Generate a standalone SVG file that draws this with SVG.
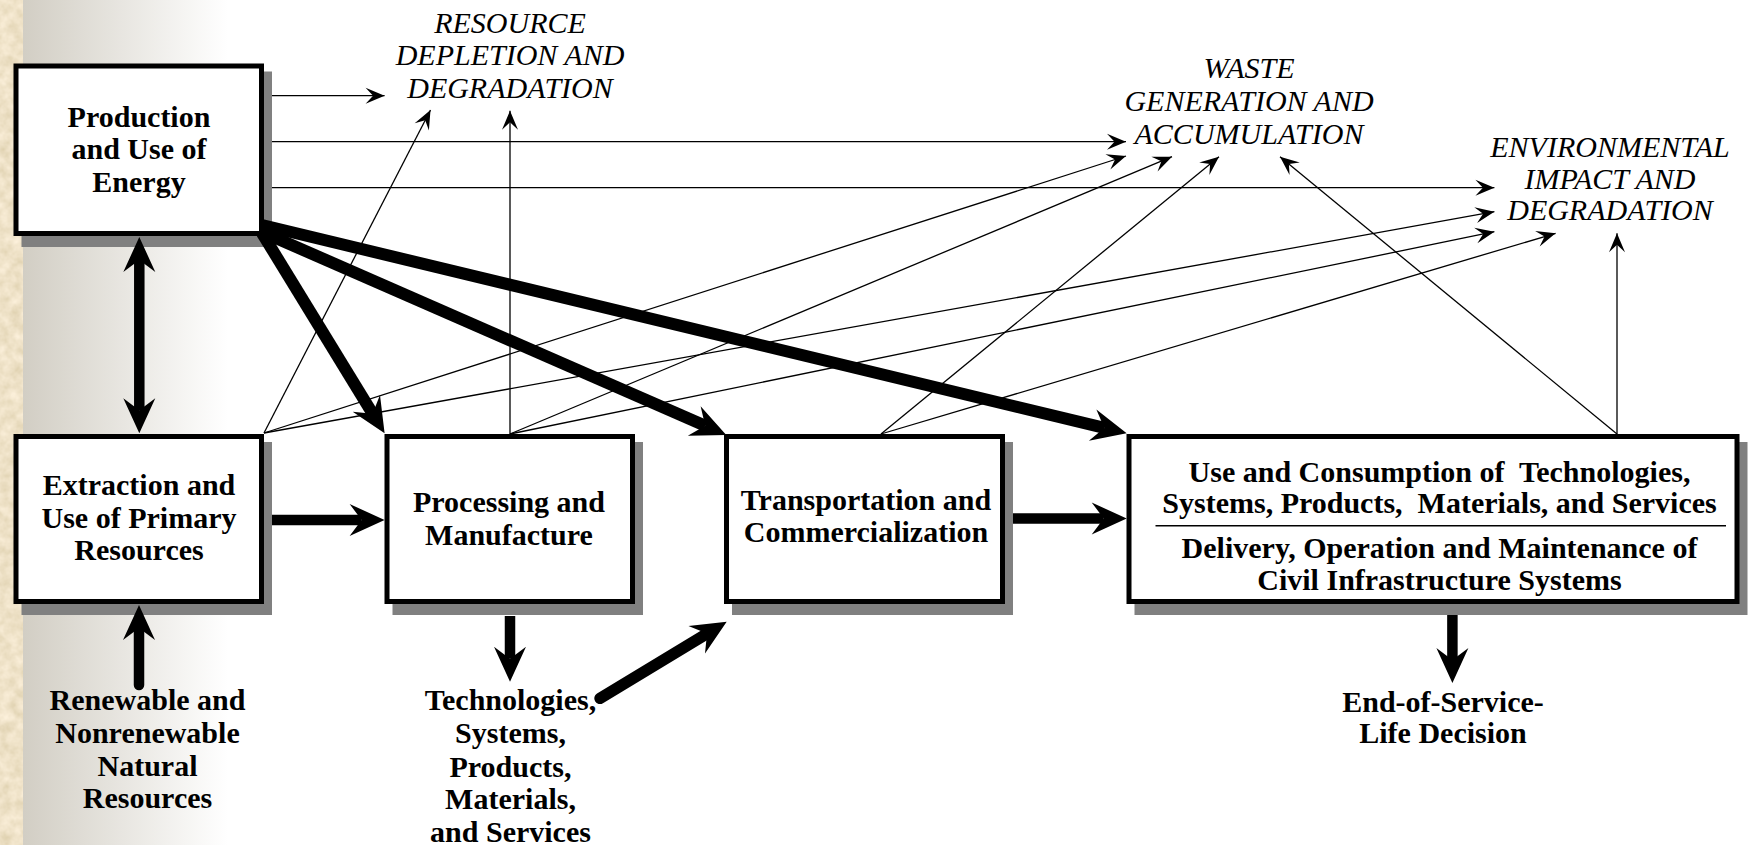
<svg xmlns="http://www.w3.org/2000/svg" width="1754" height="845" viewBox="0 0 1754 845">
<style>
.box{fill:#fff;stroke:#000;stroke-width:5}
.shd{fill:#808080}
.nt{font-family:"Liberation Serif","Times New Roman",serif;font-size:30px;font-weight:bold;fill:#000;text-anchor:middle;white-space:pre}
.ot{font-family:"Liberation Serif","Times New Roman",serif;font-size:30px;font-style:italic;fill:#000;text-anchor:middle}
.thin{fill:none;stroke:#000;stroke-width:1.3;marker-end:url(#ah)}
.thick{fill:none;stroke:#000;stroke-width:10.5;marker-end:url(#AH)}
.diag{stroke-width:12}
.rc{stroke-linecap:round}
</style>
<defs>
<linearGradient id="bg" gradientUnits="userSpaceOnUse" x1="23" y1="0" x2="228" y2="0">
<stop offset="0" stop-color="#d2cec4"/>
<stop offset="1" stop-color="#ffffff"/>
</linearGradient>
<filter id="marble" x="0" y="0" width="100%" height="100%">
<feTurbulence type="fractalNoise" baseFrequency="0.09" numOctaves="3" seed="7"/>
<feColorMatrix type="matrix" values="0.3 0 0 0 0.71  0.3 0 0 0 0.61  0.35 0 0 0 0.40  0 0 0 0 1"/>
</filter>
<marker id="ah" markerUnits="userSpaceOnUse" orient="auto" overflow="visible" markerWidth="1" markerHeight="1">
<path d="M0,0 L-19,-8 L-11.5,0 L-19,8 Z" fill="#000"/>
</marker>
<marker id="AH" markerUnits="userSpaceOnUse" orient="auto-start-reverse" overflow="visible" markerWidth="1" markerHeight="1">
<path d="M23,0 L-12,-16 L0,0 L-12,16 Z" fill="#000"/>
</marker>
</defs>
<rect x="0" y="0" width="1754" height="845" fill="#fff"/>
<rect x="23" y="0" width="210" height="845" fill="url(#bg)"/>
<rect x="0" y="0" width="23" height="845" fill="#d8c196" filter="url(#marble)"/>

<g id="node-energy">
<rect class="shd" x="21.5" y="71.5" width="250.5" height="175.5"/>
<rect class="box" x="16" y="66" width="245.5" height="167.5"/>
<text class="nt" x="139" y="126.5">Production</text>
<text class="nt" x="139" y="159">and Use of</text>
<text class="nt" x="139" y="191.5">Energy</text>
</g>
<g id="node-extraction">
<rect class="shd" x="21.5" y="442" width="250.5" height="173"/>
<rect class="box" x="16" y="436.5" width="245.5" height="165"/>
<text class="nt" x="139" y="495">Extraction and</text>
<text class="nt" x="139" y="527.5">Use of Primary</text>
<text class="nt" x="139" y="560">Resources</text>
</g>
<g id="node-processing">
<rect class="shd" x="392.5" y="442" width="250.5" height="173"/>
<rect class="box" x="387" y="436.5" width="245.5" height="165"/>
<text class="nt" x="509" y="511.5">Processing and</text>
<text class="nt" x="509" y="545">Manufacture</text>
</g>
<g id="node-transportation">
<rect class="shd" x="732" y="442" width="281" height="173"/>
<rect class="box" x="726.5" y="436.5" width="276" height="165"/>
<text class="nt" x="866" y="510">Transportation and</text>
<text class="nt" x="866" y="541.5">Commercialization</text>
</g>
<g id="node-use">
<rect class="shd" x="1134.5" y="442" width="613" height="173"/>
<rect class="box" x="1129" y="436.5" width="608" height="165"/>
<text class="nt" x="1439.5" y="481.5">Use and Consumption of  Technologies,</text>
<text class="nt" x="1439.5" y="513">Systems, Products,  Materials, and Services</text>
<line x1="1155.5" y1="525.7" x2="1726" y2="525.7" stroke="#000" stroke-width="1.5"/>
<text class="nt" x="1439.5" y="558">Delivery, Operation and Maintenance of</text>
<text class="nt" x="1439.5" y="590">Civil Infrastructure Systems</text>
</g>
<g id="node-natural-resources">
<text class="nt" x="147.5" y="710">Renewable and</text>
<text class="nt" x="147.5" y="743">Nonrenewable</text>
<text class="nt" x="147.5" y="775.5">Natural</text>
<text class="nt" x="147.5" y="808">Resources</text>
</g>
<g id="node-products">
<text class="nt" x="510.5" y="710">Technologies,</text>
<text class="nt" x="510.5" y="743">Systems,</text>
<text class="nt" x="510.5" y="776.5">Products,</text>
<text class="nt" x="510.5" y="808.5">Materials,</text>
<text class="nt" x="510.5" y="841.5">and Services</text>
</g>
<g id="node-end-of-life">
<text class="nt" x="1443" y="711.5">End-of-Service-</text>
<text class="nt" x="1443" y="743">Life Decision</text>
</g>
<g id="node-resource-depletion">
<text class="ot" x="510" y="32.5">RESOURCE</text>
<text class="ot" x="510" y="65">DEPLETION AND</text>
<text class="ot" x="510" y="97.5">DEGRADATION</text>
</g>
<g id="node-waste">
<text class="ot" x="1249" y="78">WASTE</text>
<text class="ot" x="1249" y="111">GENERATION AND</text>
<text class="ot" x="1249" y="143.5">ACCUMULATION</text>
</g>
<g id="node-environmental">
<text class="ot" x="1610" y="156.5">ENVIRONMENTAL</text>
<text class="ot" x="1610" y="188.5">IMPACT AND</text>
<text class="ot" x="1610" y="220">DEGRADATION</text>
</g>

<g id="connectors">
<path class="thin" d="M272,95.7 L384.6,95.7"/>
<path class="thin" d="M272,141.7 L1126,141.7"/>
<path class="thin" d="M272,187.7 L1494.4,187.7"/>
<path class="thin" d="M264,433 L430.5,110"/>
<path class="thin" d="M264,433 L1126,156"/>
<path class="thin" d="M264,433 L1494.4,211.7"/>
<path class="thin" d="M510,434 L510,110.7"/>
<path class="thin" d="M510,434 L1172,156.7"/>
<path class="thin" d="M510,434 L1494.4,231.7"/>
<path class="thin" d="M881,434 L1219,156.7"/>
<path class="thin" d="M881,434 L1555.6,233.3"/>
<path class="thin" d="M1617,434 L1280,156.7"/>
<path class="thin" d="M1617,434 L1617,233.3"/>

<path class="thick diag" d="M262,233 L372.6,413.7"/>
<path class="thick diag" d="M262,232 L705.2,425.8"/>
<path class="thick diag" d="M262,225 L1104.3,427.9"/>
<path class="thick" d="M139.3,260 L139.3,410.3" marker-start="url(#AH)"/>
<path class="thick" d="M272,520 L361.6,520"/>
<path class="thick" d="M1013,518.5 L1103.7,518.5"/>
<path class="thick rc" d="M139,685 L139,628"/>
<path class="thick" d="M510,616 L510,658.7"/>
<path class="thick rc" style="stroke-width:11.5" d="M600,698.3 L707,633.6"/>
<path class="thick" d="M1452.4,615 L1452.4,660"/>
</g>
</svg>
